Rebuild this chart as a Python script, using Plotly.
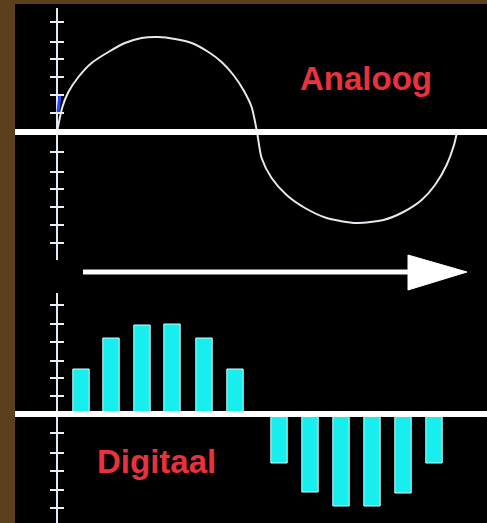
import plotly.graph_objects as go

# ---- data ----
# analog signal (time units, amplitude)
analog_t = [0, 0.27, 0.57, 1.07, 1.73, 2.57, 3.4, 4.23, 5.07, 5.9, 6.73, 7.57, 8.23, 8.82, 9.32, 9.73, 10.0,
            10.23, 10.73, 11.48, 12.4, 13.48, 14.98, 16.32, 17.32, 18.23, 18.9, 19.48, 19.85, 20.0]
analog_v = [0, 0.25, 0.40, 0.55, 0.69, 0.80, 0.89, 0.94, 0.95, 0.93, 0.89, 0.80, 0.70, 0.57, 0.42, 0.25, 0.0,
            -0.26, -0.46, -0.63, -0.76, -0.86, -0.91, -0.88, -0.80, -0.68, -0.53, -0.33, -0.13, 0.0]

# digital samples
digital_t = [1.2, 2.7, 4.25, 5.75, 7.35, 8.9, 11.1, 12.65, 14.2, 15.75, 17.3, 18.85]
digital_v = [0.45, 0.76, 0.89, 0.90, 0.76, 0.45, -0.49, -0.78, -0.92, -0.92, -0.79, -0.49]

# scale tick positions
top_ticks = [1.1, 0.9, 0.73, 0.55, 0.37, 0.19, -0.2, -0.4, -0.57, -0.75, -0.93, -1.11]
bottom_ticks = [1.09, 0.9, 0.72, 0.53, 0.36, 0.18, -0.19, -0.39, -0.57, -0.76, -0.94]

labels = ["Analoog", "Digitaal"]

# ---- styling ----
BROWN = "#5a401c"
RED = "#e8333c"
CYAN = "#18eeee"
W, H = 487, 523
ML, MT = 15, 4
PW, PH = W - ML, H - MT


def px_x(p):
    return (p - ML) / PW


def px_y(p):
    return (H - p) / PH


fig = go.Figure()

fig.add_trace(go.Scatter(x=analog_t, y=analog_v, mode="lines", line=dict(color="#e6e8f0", width=2, shape="spline", smoothing=0.7),
                         xaxis="x", yaxis="y", hoverinfo="skip"))
# small blue artefact at start of curve
fig.add_trace(go.Scatter(x=[0.05, 0.15], y=[0.2, 0.37], mode="lines", line=dict(color="#2848ff", width=3),
                         xaxis="x", yaxis="y", hoverinfo="skip"))

fig.add_trace(go.Bar(x=digital_t, y=digital_v, width=0.82, marker=dict(color=CYAN, line=dict(color="#c8ffff", width=1)),
                     xaxis="x2", yaxis="y2", hoverinfo="skip"))

tick_marker = dict(symbol="line-ew", size=10, line=dict(color="#e8eef8", width=2))
fig.add_trace(go.Scatter(x=[0] * len(top_ticks), y=top_ticks, mode="markers", marker=tick_marker,
                         xaxis="x", yaxis="y", hoverinfo="skip"))
fig.add_trace(go.Scatter(x=[0] * len(bottom_ticks), y=bottom_ticks, mode="markers", marker=tick_marker,
                         xaxis="x2", yaxis="y2", hoverinfo="skip"))

xr = [-2.1, 21.5]
axis_common = dict(showgrid=False, showticklabels=False, ticks="", showline=False)
fig.update_layout(
    width=W, height=H,
    margin=dict(l=ML, r=0, t=MT, b=0),
    paper_bgcolor=BROWN, plot_bgcolor="black",
    showlegend=False,
    xaxis=dict(range=xr, domain=[0, 1], anchor="y", zeroline=True, zerolinecolor="#dfe8f5", zerolinewidth=2, **axis_common),
    yaxis=dict(range=[-1.28, 1.24], domain=[px_y(260), px_y(8)], anchor="x", zeroline=False, **axis_common),
    xaxis2=dict(range=xr, domain=[0, 1], anchor="y2", zeroline=True, zerolinecolor="#dfe8f5", zerolinewidth=2, **axis_common),
    yaxis2=dict(range=[-1.09, 1.21], domain=[0, px_y(293)], anchor="x2", zeroline=False, **axis_common),
)

shapes = [
    dict(type="rect", xref="paper", yref="paper", x0=0, x1=1, y0=0, y1=1, fillcolor="black", line=dict(width=0), layer="below"),
    dict(type="line", xref="paper", yref="y", x0=0, x1=1, y0=0, y1=0, line=dict(color="white", width=6), layer="above"),
    dict(type="line", xref="paper", yref="y2", x0=0, x1=1, y0=0, y1=0, line=dict(color="white", width=6), layer="above"),
    dict(type="line", xref="paper", yref="paper", x0=px_x(83), x1=px_x(412), y0=px_y(272), y1=px_y(272),
         line=dict(color="white", width=5), layer="above"),
    dict(type="path", xref="paper", yref="paper",
         path=f"M {px_x(408)},{px_y(255)} L {px_x(467)},{px_y(272)} L {px_x(408)},{px_y(290)} Z",
         fillcolor="white", line=dict(color="white", width=1), layer="above"),
]
fig.update_layout(shapes=shapes)

font = dict(family="Liberation Sans, Arial, sans-serif", size=33, color=RED)
fig.add_annotation(x=15.45, y=0.53, xref="x", yref="y", text=f"<b>{labels[0]}</b>", showarrow=False,
                   xanchor="center", yanchor="middle", font=font)
fig.add_annotation(x=1.9, y=-0.47, xref="x2", yref="y2", text=f"<b>{labels[1]}</b>", showarrow=False,
                   xanchor="left", yanchor="middle", font=font)

fig.write_html("out.html", config={"displayModeBar": False},
               post_script="document.body.style.margin='0';document.body.style.overflow='hidden';")
